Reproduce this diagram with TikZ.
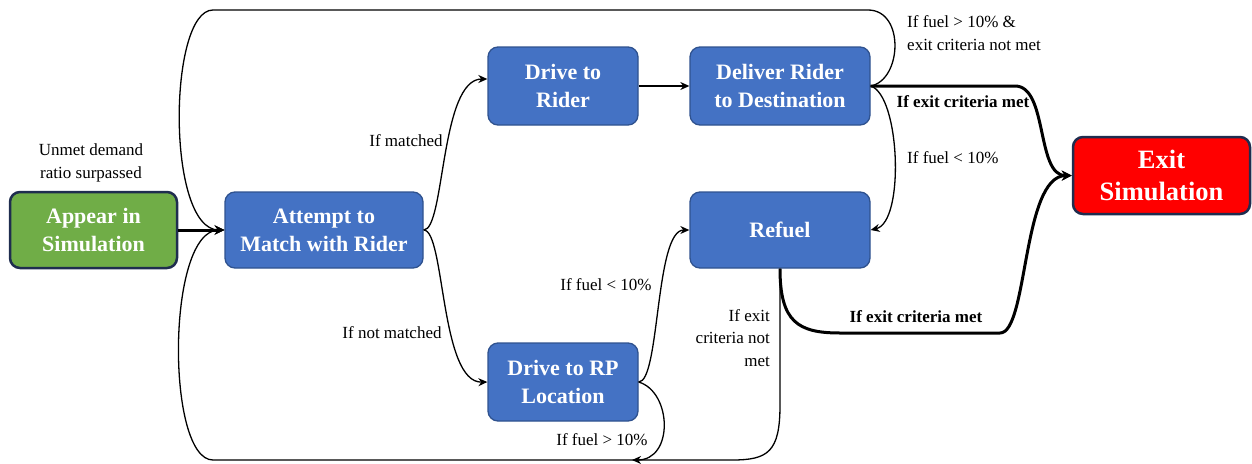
\documentclass[tikz,border=0pt]{standalone}
\usepackage{fontspec}
\setmainfont{Liberation Serif}
\usetikzlibrary{arrows.meta}
\definecolor{boxblue}{HTML}{4472C4}
\definecolor{boxblueedge}{HTML}{2F528F}
\definecolor{boxgreen}{HTML}{70AD47}
\definecolor{navyedge}{HTML}{1F2D4F}
\definecolor{exitred}{HTML}{FF0000}
\tikzset{
  box/.style={rounded corners=10pt, fill=boxblue, draw=boxblueedge, line width=1.3pt,
    text=white, font=\fontsize{22}{28}\selectfont\bfseries, align=center, inner sep=0pt},
  lab/.style={font=\fontsize{17}{22.5}\selectfont, text=black, inner sep=0pt},
  blab/.style={lab, font=\fontsize{17}{22.5}\selectfont\bfseries},
  conn/.style={line width=1.3pt, -{Stealth[length=9pt,width=8pt]}},
  thickconn/.style={line width=3pt, -{Stealth[length=10pt,width=10pt]}},
}
\begin{document}
\begin{tikzpicture}[x=1pt,y=-1pt]
\useasboundingbox (0,0) rectangle (1252,463);

% nodes
\node[box, fill=boxgreen, draw=navyedge, line width=2.5pt, minimum width=167pt, minimum height=76pt] (appear) at (93.5,230) {Appear in\\Simulation};
\node[box, minimum width=198pt, minimum height=76pt] (attempt) at (324,230) {Attempt to\\Match with Rider};
\node[box, minimum width=150pt, minimum height=78pt] (drive) at (563,86) {Drive to\\Rider};
\node[box, minimum width=180pt, minimum height=78pt] (deliver) at (780,86) {Deliver Rider\\to Destination};
\node[box, minimum width=180pt, minimum height=76pt] (refuel) at (780,230) {Refuel};
\node[box, minimum width=150pt, minimum height=78pt] (rp) at (563,382) {Drive to RP\\Location};
\node[box, fill=exitred, draw=navyedge, line width=2.5pt, minimum width=177pt, minimum height=77pt,
  font=\fontsize{26.5}{32}\selectfont\bfseries] (exit) at (1161.5,175.5) {Exit\\Simulation};

% helper coordinates
\coordinate (toplft) at (213,10);
\coordinate (toprgt) at (868,10);
\coordinate (botlft) at (213,460);
\coordinate (botrgt) at (732,460);
\coordinate (refdown) at (780,405);
\coordinate (rpjoin) at (632,460);
\coordinate (d2e) at (1015,86);
\coordinate (r2e) at (840,333);
\coordinate (r2e2) at (1000,333);

% connectors
\draw[thickconn] (appear.east) -- (attempt.west);
\draw[conn] (attempt.east) .. controls (445,230) and (440,79) .. ([yshift=7pt]drive.west);
\draw[conn] (attempt.east) .. controls (445,230) and (440,383) .. (rp.west);
\draw[conn] (drive.east) -- (deliver.west);
\draw[conn] (deliver.east) .. controls (900,95) and (905,222) .. (refuel.east);
\draw[conn] (rp.east) .. controls (660,382) and (655,230) .. (refuel.west);
\draw[conn] (rp.east) .. controls (672,392) and (674,460) .. (rpjoin);

% top loop
\draw[conn] (deliver.east) .. controls (902,80) and (905,10) .. (toprgt) -- (toplft)
   .. controls (168,10) and (166,230) .. (attempt.west);
% bottom loop
\draw[conn] (refuel.south) -- (refdown) .. controls (780,452) and (768,460) .. (botrgt) -- (botlft)
   .. controls (166,460) and (166,230) .. (attempt.west);

% exit connectors
\draw[thickconn] (deliver.east) -- (d2e) .. controls (1048,86) and (1036,176) .. (exit.west);
\draw[thickconn] (refuel.south) .. controls (780,322) and (798,333) .. (r2e) -- (r2e2)
   .. controls (1028,333) and (1022,176) .. (exit.west);

% labels
\node[lab, align=center] (unmet) at (91,163) {Unmet demand\\ratio surpassed};
\node[lab] (lmatched) at (406,141) {If matched};
\node[lab] (lnotmatched) at (392,333) {If not matched};
\node[lab, anchor=west, align=left] (lloop) at (907,33) {If fuel > 10\% \&\\exit criteria not met};
\node[blab] (lexit1) at (963,102) {If exit criteria met};
\node[lab, anchor=west] (lfuel1) at (907,158) {If fuel < 10\%};
\node[lab] (lfuel2) at (606,285) {If fuel < 10\%};
\node[lab, anchor=east, align=right] (lnotmet) at (770,338) {If exit\\criteria not\\met};
\node[blab] (lexit2) at (916,317) {If exit criteria met};
\node[lab] (lfuel3) at (602,440) {If fuel > 10\%};
\end{tikzpicture}
\end{document}
